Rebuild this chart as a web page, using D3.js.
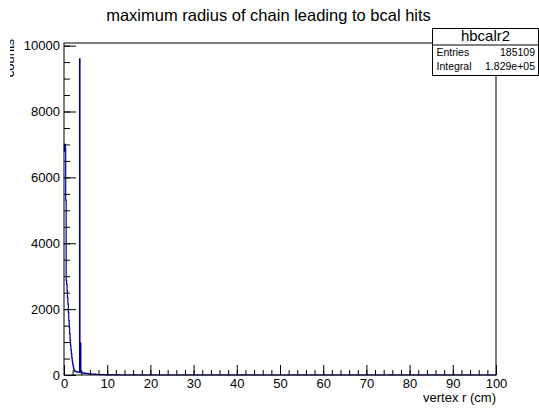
<!DOCTYPE html>
<html>
<head>
<meta charset="utf-8">
<script src="https://cdn.jsdelivr.net/npm/d3@7"></script>
<style>
  body { margin: 0; background: #fff; }
  svg { display: block; font-family: "Liberation Sans", Arial, sans-serif; }
</style>
</head>
<body>
<div id="chart"></div>
<script>
// histogram hbcalr2, 0.1 cm bins starting at r = 0
const binWidth = 0.1;
const counts = [
  6800, 7000, 7000, 6900, 5300, 2870, 2750, 2550, 2350, 2150,
  1900, 1650, 1450, 1250, 1060, 900, 760, 640, 520, 420,
  340, 270, 210, 160, 130, 115, 105, 100, 100, 95,
  95, 90, 90, 85, 85, 80, 9600, 110, 970, 75,
  70, 65, 70, 60, 65, 55, 60, 55, 50, 55,
  50, 45, 50, 45, 40, 45, 40, 40, 35, 40,
  35, 35, 30, 35, 30, 30, 25, 30, 25, 25,
  25, 20, 25, 20, 20, 20, 15, 20, 15, 15,
  15, 15, 12, 15, 12, 10, 12, 10, 10, 12,
  10, 10, 8, 10, 8, 8, 6, 8, 6, 6,
  6, 5, 6, 5, 4, 5, 4, 4, 3, 4,
  3, 4, 3, 3, 2, 3, 2, 2, 2, 1,
  2, 1, 1, 2, 1, 1, 0, 1, 0, 0
];
// isolated small entries further out
const blipR = [16.4, 20.0, 41.1, 75.8, 90.3];
const blipCounts = [8, 8, 10, 10, 10];

const xTicks = [0, 10, 20, 30, 40, 50, 60, 70, 80, 90, 100];
const yTicks = [0, 2000, 4000, 6000, 8000, 10000];
const statsLabels = ["Entries", "Integral"];
const statsValues = ["185109", "1.829e+05"];

const width = 539, height = 413;
const margin = { top: 43, right: 43, bottom: 38, left: 64 };

const svg = d3.select("#chart").append("svg")
  .attr("width", width)
  .attr("height", height);

const nBins = Math.round(100 / binWidth);
const bins = d3.range(nBins).map(i => ({ lo: i * binWidth, c: 0 }));
counts.forEach((c, i) => { bins[i].c = c; });
blipR.forEach((r, i) => { bins[Math.floor(r / binWidth)].c = blipCounts[i]; });

const x = d3.scaleLinear()
  .domain([0, 100])
  .range([margin.left, width - margin.right]);

const y = d3.scaleLinear()
  .domain([0, d3.max(counts) * 1.05])
  .range([height - margin.bottom, margin.top]);

// step outline of the histogram
const pts = bins.map(b => [b.lo, b.c]);
pts.push([100, bins[nBins - 1].c]);
const line = d3.line()
  .x(d => x(d[0]))
  .y(d => y(d[1]))
  .curve(d3.curveStepAfter);

svg.append("path")
  .attr("d", line(pts))
  .attr("fill", "none")
  .attr("stroke", "#000099")
  .attr("stroke-width", 1.2);

// axes, ticks inward like ROOT
const yAxisMinor = d3.axisLeft(y).tickValues(d3.range(0, 10001, 500)).tickSize(-6).tickFormat("");
const yAxis = d3.axisLeft(y).tickValues(yTicks).tickSize(-12).tickPadding(4).tickFormat(d3.format("d"));
const xAxisMinor = d3.axisBottom(x).tickValues(d3.range(0, 101, 2)).tickSize(-5).tickFormat("");
const xAxis = d3.axisBottom(x).tickValues(xTicks).tickSize(-10).tickPadding(4).tickFormat(d3.format("d"));

const gy = svg.append("g").attr("transform", `translate(${margin.left},0)`);
gy.call(yAxisMinor);
gy.append("g").call(yAxis);
const gx = svg.append("g").attr("transform", `translate(0,${height - margin.bottom})`);
gx.call(xAxisMinor);
gx.append("g").call(xAxis);

svg.selectAll(".domain").remove();
svg.selectAll(".tick line").attr("stroke", "#000");
svg.selectAll(".tick text").style("font-size", "13px").attr("fill", "#000");

// frame
svg.append("rect")
  .attr("x", x(0))
  .attr("y", margin.top)
  .attr("width", x(100) - x(0))
  .attr("height", y(0) - margin.top)
  .attr("fill", "none")
  .attr("stroke", "#000")
  .attr("stroke-width", 1);

// titles
svg.append("text")
  .attr("x", 268.5)
  .attr("y", 21)
  .attr("text-anchor", "middle")
  .style("font-size", "16.5px")
  .text("maximum radius of chain leading to bcal hits");

svg.append("text")
  .attr("x", x(100))
  .attr("y", 402)
  .attr("text-anchor", "end")
  .style("font-size", "13px")
  .text("vertex r (cm)");

// y title sits mostly outside the pad and is clipped, as in the original
svg.append("defs").append("clipPath")
  .attr("id", "ytitle-clip")
  .append("rect")
  .attr("x", 10).attr("y", 0)
  .attr("width", 20).attr("height", 120);

svg.append("g")
  .attr("clip-path", "url(#ytitle-clip)")
  .append("text")
  .attr("transform", `translate(14,${margin.top - 4}) rotate(-90)`)
  .attr("text-anchor", "end")
  .style("font-size", "13px")
  .text("counts");

// stats box
const box = svg.append("g").attr("transform", "translate(432.5,28.5)");
box.append("rect")
  .attr("width", 106)
  .attr("height", 47)
  .attr("fill", "#fff")
  .attr("stroke", "#000");
box.append("line")
  .attr("x1", 0).attr("x2", 106)
  .attr("y1", 16.5).attr("y2", 16.5)
  .attr("stroke", "#000");
box.append("text")
  .attr("x", 53)
  .attr("y", 12.5)
  .attr("text-anchor", "middle")
  .style("font-size", "15px")
  .text("hbcalr2");
statsLabels.forEach((lab, i) => {
  box.append("text")
    .attr("x", 4)
    .attr("y", 27.5 + i * 13.5)
    .style("font-size", "10.5px")
    .text(lab);
  box.append("text")
    .attr("x", 102.5)
    .attr("y", 27.5 + i * 13.5)
    .attr("text-anchor", "end")
    .style("font-size", "10.5px")
    .text(statsValues[i]);
});
</script>
</body>
</html>
